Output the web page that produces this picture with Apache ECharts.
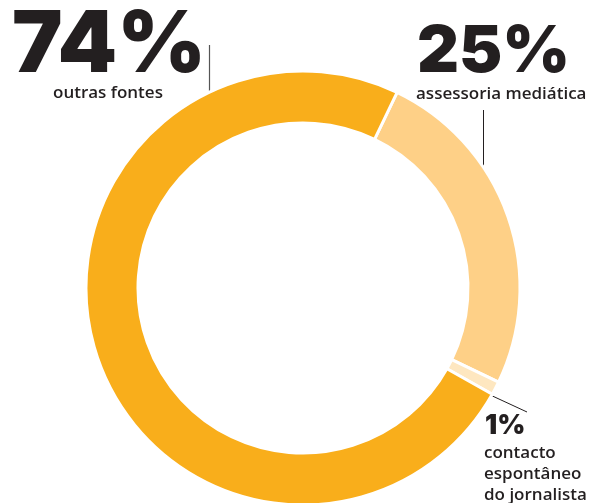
<!DOCTYPE html>
<html>
<head>
<meta charset="utf-8">
<script src="https://cdn.jsdelivr.net/npm/echarts@6/dist/echarts.min.js"></script>
<style>
html,body{margin:0;padding:0;background:#fff;}
#chart{width:590px;height:503px;}
</style>
</head>
<body>
<div id="chart"></div>
<script>
// Data
var categories = ['assessoria mediática', 'contacto espontâneo do jornalista', 'outras fontes'];
var values = [25, 1, 74];
var colors = ['#FED087', '#FEE7C0', '#F9AE1B'];
var valueLabels = ['25%', '1%', '74%'];

var chart = echarts.init(document.getElementById('chart'), null, {renderer: 'canvas'});
var NUMFONT = 'Inter, Lato, sans-serif';
var FONT = '"Open Sans", Lato, sans-serif';
var DARK = '#231F20';

var option = {
  backgroundColor: '#ffffff',
  animation: false,
  series: [{
    type: 'pie',
    center: [303, 288],
    radius: [165, 217],
    startAngle: 64.3,
    clockwise: true,
    label: {show: false},
    labelLine: {show: false},
    silent: true,
    itemStyle: {borderColor: '#ffffff', borderWidth: 3},
    data: categories.map(function (c, i) {
      return {name: c, value: values[i], itemStyle: {color: colors[i]}};
    })
  }],
  graphic: [
    // 74% outras fontes
    {type: 'text', left: 12, top: 4, style: {text: valueLabels[2], font: '900 85px ' + NUMFONT, fill: DARK}},
    {type: 'text', left: 53, top: 85, style: {text: categories[2], font: '600 17px ' + FONT, fill: DARK}},
    {type: 'line', shape: {x1: 209.5, y1: 45, x2: 209.5, y2: 129}, style: {stroke: '#555555', lineWidth: 1.2}},
    // 25% assessoria mediática
    {type: 'text', left: 417, top: 20, style: {text: valueLabels[0], font: '900 65px ' + NUMFONT, fill: DARK}},
    {type: 'text', left: 416, top: 86, style: {text: categories[0], font: '600 17px ' + FONT, fill: DARK}},
    {type: 'line', shape: {x1: 483.5, y1: 110, x2: 483.5, y2: 195}, style: {stroke: '#231F20', lineWidth: 1}},
    // 1% contacto espontâneo do jornalista
    {type: 'text', left: 485, top: 412, style: {text: valueLabels[1], font: '900 27px ' + NUMFONT, fill: DARK}},
    {type: 'text', left: 484, top: 443, style: {text: 'contacto\nespontâneo\ndo jornalista', font: '600 17px ' + FONT, lineHeight: 21, fill: DARK}},
    {type: 'line', shape: {x1: 473, y1: 387, x2: 527, y2: 412}, style: {stroke: '#231F20', lineWidth: 1}}
  ]
};
chart.setOption(option);
</script>
</body>
</html>
